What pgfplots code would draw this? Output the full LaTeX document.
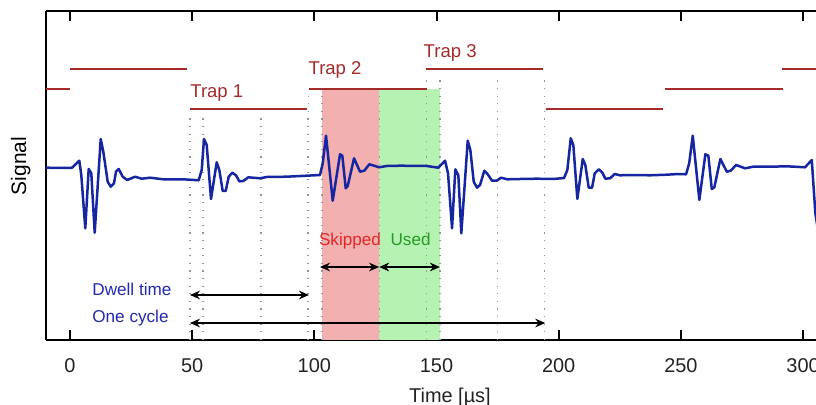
\documentclass[border=0pt]{standalone}
\usepackage{pgfplots}
\pgfplotsset{compat=1.18}
\usetikzlibrary{arrows.meta}
\usepackage{fontspec}
\setmainfont{Liberation Sans}

\definecolor{sigblue}{RGB}{22,38,160}
\definecolor{trapred}{RGB}{165,42,42}
\definecolor{skipfill}{RGB}{242,176,176}
\definecolor{usefill}{RGB}{182,242,178}
\definecolor{skiptext}{RGB}{228,40,40}
\definecolor{usetext}{RGB}{34,158,34}
\definecolor{annblue}{RGB}{36,40,176}
\definecolor{dotgray}{RGB}{150,150,150}
\definecolor{labgray}{RGB}{34,34,34}

\begin{document}
\begin{tikzpicture}
\begin{axis}[
    scale only axis,
    width=385bp, height=164.5bp,
    xmin=-9.82, xmax=305.3,
    ymin=0, ymax=329,
    axis x line=box, axis y line=left,
    axis line style={-, line width=1bp, black},
    xtick={0,50,...,300}, ytick=\empty,
    tick align=inside,
    major tick length=5bp,
    tick style={line width=1bp, black},
    xticklabel style={yshift=-6bp, text=labgray, font=\fontsize{10}{12}\selectfont},
    /pgf/number format/assume math mode=true,
    clip mode=individual,
    unbounded coords=jump,
]
% skipped / used windows
\addplot[fill=skipfill, draw=none] coordinates {(103.2,251) (126.4,251)} \closedcycle;
\addplot[fill=usefill, draw=none] coordinates {(126.4,251) (151.4,251)} \closedcycle;

% dotted markers for each trap
\addplot[ycomb, dotgray, line width=0.6bp, dash pattern=on 0.6bp off 3.2bp]
    coordinates {(49.1,225) (54.4,225) (78.2,225) (97.2,225)};
\addplot[ycomb, dotgray, line width=0.6bp, dash pattern=on 0.6bp off 3.2bp]
    coordinates {(97.6,248) (103.1,248) (126.5,248) (146.0,248)};
\addplot[ycomb, dotgray, line width=0.6bp, dash pattern=on 0.6bp off 3.2bp]
    coordinates {(146.0,264) (151.4,264) (175.0,264) (194.3,264)};

% trap levels
\addplot[trapred, line width=1bp] coordinates {
    (-10,251) (0.1,251) (0.1,nan)
    (-0.1,271) (47.9,271) (47.9,nan)
    (49.1,231) (97.0,231) (97.0,nan)
    (97.8,251) (146.1,251) (146.1,nan)
    (145.7,271) (193.6,271) (193.6,nan)
    (194.8,231) (242.7,231) (242.7,nan)
    (243.5,251) (291.8,251) (291.8,nan)
    (291.4,271) (306,271)
};

% signal
\addplot[sigblue, line width=1.25bp, line join=round] coordinates {
(-10,172.3) (0.7,172) (3.81,179.3) (4.62,165) (6.26,111.7) (7.65,171) (8.72,166.7) (10.11,107.3) (12.57,201) (13.63,188.3) (15.43,158.3) (16.66,153.3) (18.01,156.7) (18.83,168.3) (19.93,171) (21.57,163.3) (23.45,160) (26.6,163.3) (29.35,161.3) (32.74,162.3) (38.19,160.7) (46.37,160.7) (52.67,159.7)
(53.9,170) (54.84,201) (55.95,195) (57.71,141) (60.04,177.7) (61.11,170) (62.5,149) (63.73,149) (64.95,163.3) (66.43,167.3) (67.94,164.7) (69.29,158.7) (70.93,159) (72.98,162.7) (77.76,161.7) (80.51,163) (88.69,163.3) (96.88,164.3) (102.32,165)
(103.43,176.7) (104.78,204.3) (107.52,139.3) (110.51,185.7) (111.45,184.3) (112.84,151.7) (113.66,154) (116.24,181.7) (118.69,168.3) (120.45,169.3) (122.5,175.7) (124.42,174.3) (126.47,172.7) (129.62,174) (135.06,174.3) (145.99,174) (150.74,172.3)
(153.48,179.3) (154.71,166.7) (156.35,111.7) (157.7,170.7) (158.93,164.7) (160.15,106.7) (162.77,199.3) (163.84,190) (165.23,158.3) (166.58,152.3) (167.81,155) (169.57,169.3) (170.96,165.7) (172.72,159.3) (174.64,159.3) (176.4,162.3) (178.98,160.7) (184.18,161) (191.01,161.3) (197.81,161) (202.19,162)
(203.54,170) (204.93,201.7) (205.99,195) (207.63,141) (209.84,181) (210.9,175) (212.29,152.3) (213.65,152.3) (214.75,166.7) (216.39,170.7) (217.86,167.3) (219.09,161.3) (221.01,161.7) (222.94,166) (225.11,164.7) (230.55,165) (237.38,164.7) (244.22,165.3) (248.97,166) (252.12,165.7)
(253.4,176.7) (254.86,204.3) (257.56,140) (260.02,185.7) (261.25,184.3) (262.64,151) (263.7,152.7) (266.16,181) (268.78,168.3) (270.42,169.3) (272.58,175) (276.27,171.7) (279.67,173.3) (286.5,173.3) (293.34,173.7) (300.83,172.7) (303.57,180) (305.04,126.7) (306,111.7)
};

% interval arrows
\addplot[black, line width=1bp, {Stealth[length=5bp,width=4.3bp]}-{Stealth[length=5bp,width=4.3bp]}]
    coordinates {(102.3,73) (126.5,73)};
\addplot[black, line width=1bp, {Stealth[length=5bp,width=4.3bp]}-{Stealth[length=5bp,width=4.3bp]}]
    coordinates {(126.5,73) (151.4,73)};
\addplot[black, line width=1bp, {Stealth[length=5bp,width=4.3bp]}-{Stealth[length=5bp,width=4.3bp]}]
    coordinates {(49.1,45) (97.8,45)};
\addplot[black, line width=1bp, {Stealth[length=5bp,width=4.3bp]}-{Stealth[length=5bp,width=4.3bp]}]
    coordinates {(49.1,17) (194.5,17)};

% labels
\node[inner sep=0pt, anchor=base west, text=trapred, font=\fontsize{9.3}{11}\selectfont] at (axis cs:49.1,242.5) {Trap 1};
\node[inner sep=0pt, anchor=base west, text=trapred, font=\fontsize{9.3}{11}\selectfont] at (axis cs:97.5,265) {Trap 2};
\node[inner sep=0pt, anchor=base west, text=trapred, font=\fontsize{9.3}{11}\selectfont] at (axis cs:144.6,282.4) {Trap 3};
\node[inner sep=0pt, anchor=base, text=skiptext, font=\fontsize{8.6}{10}\selectfont] at (axis cs:114.6,94.5) {Skipped};
\node[inner sep=0pt, anchor=base, text=usetext, font=\fontsize{8.6}{10}\selectfont] at (axis cs:139.4,94.5) {Used};
\node[inner sep=0pt, anchor=base west, text=annblue, font=\fontsize{8.6}{10}\selectfont] at (axis cs:9.0,45) {Dwell time};
\node[inner sep=0pt, anchor=base west, text=annblue, font=\fontsize{8.6}{10}\selectfont] at (axis cs:9.0,17.7) {One cycle};
\node[inner sep=0pt, xshift=-10bp, rotate=90, anchor=base, text=black, font=\fontsize{10.5}{12}\selectfont] at (axis cs:-9.82,174) {Signal};
\node[inner sep=0pt, yshift=-31bp, anchor=base, text=labgray, font=\fontsize{10}{12}\selectfont] at (axis cs:155.5,0) {Time [µs]};
\end{axis}
\pgfresetboundingbox
\path[use as bounding box] (-23bp,-32.5bp) rectangle (385bp,170bp);
\end{tikzpicture}
\end{document}
